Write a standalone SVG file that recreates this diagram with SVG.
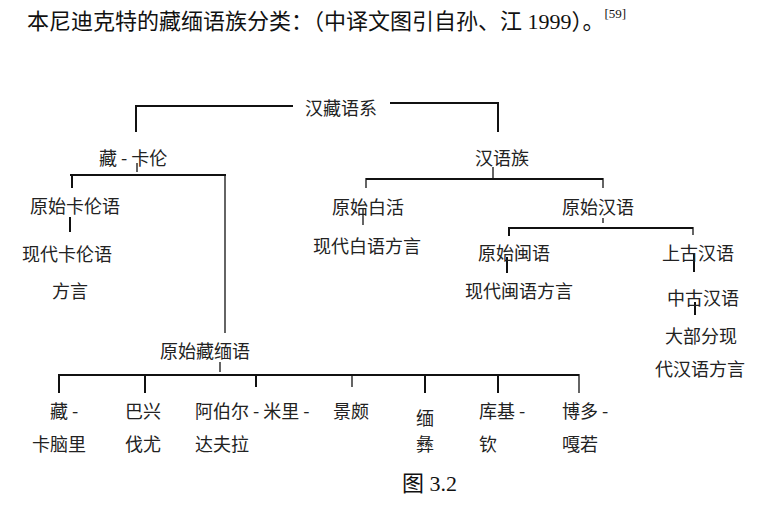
<svg xmlns="http://www.w3.org/2000/svg" width="767" height="506" viewBox="0 0 767 506">
<style>
.t{font-family:"Noto Sans CJK SC","Noto Sans",sans-serif;font-size:18px;fill:#222;dominant-baseline:central}
.s{font-family:"Liberation Serif","Noto Sans CJK SC",serif;font-size:22px;fill:#111;dominant-baseline:central}
.c line{stroke:#111;stroke-width:2}
.c line.th{stroke-width:1.3}
</style>
<rect width="767" height="506" fill="#fff"/>
<text class="s" x="27" y="21">本尼迪克特的藏缅语族分类：（中译文图引自孙、江 1999）。<tspan font-size="13" dy="-8">[59]</tspan></text>
<g class="c" id="connectors">
<line x1="135" y1="106" x2="293" y2="106"/>
<line x1="136" y1="105" x2="136" y2="132"/>
<line x1="390" y1="103" x2="499" y2="103"/>
<line x1="498" y1="102" x2="498" y2="132"/>
<line class="th" x1="137" y1="163" x2="137" y2="172"/>
<line x1="70" y1="175" x2="226" y2="175"/>
<line x1="72" y1="174" x2="72" y2="188"/>
<line class="th" x1="225" y1="175" x2="225" y2="333"/>
<line x1="70" y1="217" x2="70" y2="232"/>
<line class="th" x1="493" y1="167" x2="493" y2="178"/>
<line x1="366" y1="179" x2="603" y2="179"/>
<line class="th" x1="366" y1="178" x2="366" y2="188"/>
<line class="th" x1="603" y1="178" x2="603" y2="188"/>
<line class="th" x1="363" y1="208" x2="363" y2="225"/>
<line class="th" x1="603" y1="218" x2="603" y2="223"/>
<line x1="508" y1="228" x2="693" y2="228"/>
<line x1="509" y1="227" x2="509" y2="236"/>
<line class="th" x1="693" y1="227" x2="693" y2="235"/>
<line x1="507" y1="257" x2="507" y2="273"/>
<line x1="694" y1="254" x2="694" y2="272"/>
<line x1="695" y1="302" x2="695" y2="315"/>
<line class="th" x1="220" y1="362" x2="220" y2="372"/>
<line x1="58" y1="375" x2="579" y2="375"/>
<line x1="59" y1="374" x2="59" y2="393"/>
<line x1="145" y1="374" x2="145" y2="393"/>
<line x1="256" y1="374" x2="256" y2="387"/>
<line class="th" x1="352" y1="374" x2="352" y2="387"/>
<line x1="425" y1="374" x2="425" y2="393"/>
<line x1="498" y1="374" x2="498" y2="393"/>
<line class="th" x1="579" y1="374" x2="579" y2="393"/>
</g>
<g id="n-hanzang"><text class="t" x="305" y="107">汉藏语系</text></g>
<g id="n-zangkalun"><text class="t" x="99" y="157">藏 - 卡伦</text></g>
<g id="n-hanyuzu"><text class="t" x="475" y="157">汉语族</text></g>
<g id="n-yskly"><text class="t" x="30" y="205">原始卡伦语</text></g>
<g id="n-xdkly"><text class="t" x="22" y="253">现代卡伦语</text><text class="t" x="52" y="290">方言</text></g>
<g id="n-ysbh"><text class="t" x="332" y="206">原始白活</text></g>
<g id="n-xdby"><text class="t" x="313" y="245">现代白语方言</text></g>
<g id="n-yshy"><text class="t" x="562" y="206">原始汉语</text></g>
<g id="n-ysmy"><text class="t" x="478" y="252">原始闽语</text></g>
<g id="n-xdmy"><text class="t" x="465" y="290">现代闽语方言</text></g>
<g id="n-sghy"><text class="t" x="662" y="252">上古汉语</text></g>
<g id="n-zghy"><text class="t" x="667" y="297">中古汉语</text></g>
<g id="n-dbf"><text class="t" x="665" y="335">大部分现</text><text class="t" x="655" y="368">代汉语方言</text></g>
<g id="n-yszmy"><text class="t" x="160" y="350">原始藏缅语</text></g>
<g id="n-zang"><text class="t" x="50" y="410">藏 -</text><text class="t" x="32" y="443">卡脑里</text></g>
<g id="n-baxing"><text class="t" x="125" y="410">巴兴</text><text class="t" x="125" y="443">伐尤</text></g>
<g id="n-abe"><text class="t" x="195" y="410">阿伯尔 - 米里 -</text><text class="t" x="195" y="443">达夫拉</text></g>
<g id="n-jingpo"><text class="t" x="333" y="410">景颇</text></g>
<g id="n-mian"><text class="t" x="416" y="417" font-size="15">缅</text><text class="t" x="416" y="443" font-size="15">彝</text></g>
<g id="n-kuji"><text class="t" x="479" y="410">库基 -</text><text class="t" x="479" y="443">钦</text></g>
<g id="n-boduo"><text class="t" x="562" y="410">博多 -</text><text class="t" x="562" y="443">嘎若</text></g>
<text class="s" x="402" y="483" font-size="18">图 3.2</text>
</svg>
